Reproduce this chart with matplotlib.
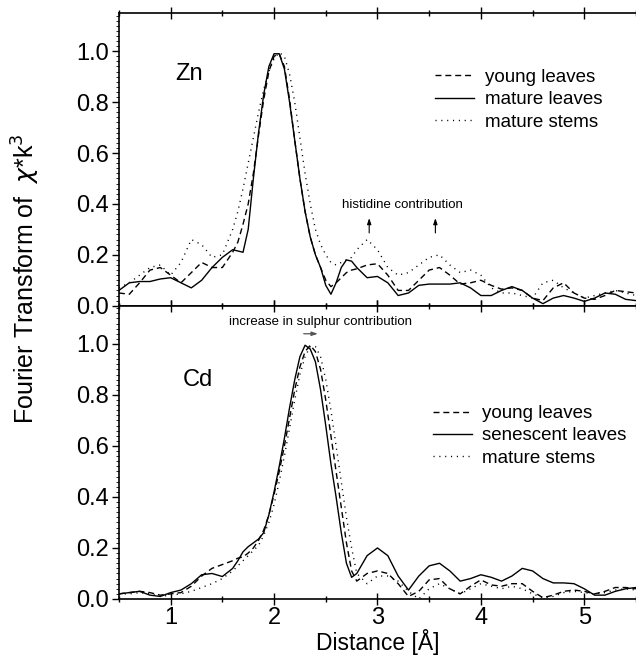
import matplotlib
matplotlib.use("Agg")
import matplotlib.pyplot as plt
from matplotlib.ticker import MultipleLocator, FormatStrFormatter

plt.rcParams['font.family'] = ['Liberation Sans', 'DejaVu Sans']
plt.rcParams['mathtext.fontset'] = 'dejavusans'

# ---- data ----
dist = [0.5, 0.6, 0.7, 0.8, 0.9, 1.0, 1.1, 1.2, 1.3, 1.4, 1.5,
        1.6, 1.65, 1.7, 1.75, 1.8, 1.85, 1.9, 1.95, 2.0, 2.05, 2.1, 2.15,
        2.2, 2.25, 2.3, 2.35, 2.4, 2.45, 2.5, 2.55, 2.6, 2.65, 2.7, 2.75, 2.8,
        2.9, 3.0, 3.1, 3.2, 3.3, 3.4, 3.5, 3.6, 3.7, 3.8, 3.9, 4.0, 4.1, 4.2,
        4.3, 4.4, 4.5, 4.6, 4.7, 4.8, 4.9, 5.0, 5.1, 5.2, 5.3, 5.4, 5.5]

# Zn panel
zn_young = [0.05, 0.045, 0.09, 0.14, 0.15, 0.12, 0.09, 0.13, 0.17, 0.15, 0.15,
            0.21, 0.25, 0.32, 0.40, 0.52, 0.67, 0.81, 0.92, 0.98, 0.99, 0.94, 0.81,
            0.65, 0.50, 0.37, 0.27, 0.20, 0.15, 0.10, 0.075, 0.09, 0.11, 0.13, 0.14, 0.145,
            0.16, 0.165, 0.12, 0.06, 0.06, 0.10, 0.14, 0.15, 0.12, 0.085, 0.09, 0.10, 0.08, 0.065,
            0.07, 0.06, 0.03, 0.02, 0.07, 0.09, 0.05, 0.03, 0.025, 0.04, 0.06, 0.055, 0.05]
zn_mature = [0.06, 0.09, 0.095, 0.095, 0.105, 0.11, 0.09, 0.07, 0.10, 0.15, 0.19,
             0.22, 0.215, 0.21, 0.30, 0.50, 0.68, 0.83, 0.94, 0.99, 0.99, 0.93, 0.80,
             0.65, 0.50, 0.37, 0.27, 0.20, 0.15, 0.08, 0.045, 0.09, 0.15, 0.18, 0.175, 0.15,
             0.11, 0.115, 0.09, 0.04, 0.05, 0.08, 0.085, 0.085, 0.085, 0.09, 0.07, 0.04, 0.04, 0.06,
             0.075, 0.06, 0.03, 0.008, 0.03, 0.04, 0.03, 0.017, 0.03, 0.05, 0.045, 0.025, 0.02]
zn_stems = [0.07, 0.09, 0.12, 0.15, 0.16, 0.12, 0.17, 0.26, 0.24, 0.19, 0.20,
            0.30, 0.37, 0.46, 0.56, 0.66, 0.76, 0.85, 0.92, 0.97, 0.995, 0.98, 0.91,
            0.80, 0.66, 0.52, 0.40, 0.30, 0.24, 0.20, 0.17, 0.16, 0.17, 0.18, 0.19, 0.22,
            0.26, 0.22, 0.15, 0.12, 0.13, 0.16, 0.19, 0.20, 0.16, 0.13, 0.14, 0.12, 0.07, 0.05,
            0.05, 0.04, 0.03, 0.09, 0.10, 0.07, 0.05, 0.03, 0.04, 0.05, 0.06, 0.05, 0.04]

# Cd panel
cd_young = [0.02, 0.025, 0.03, 0.025, 0.015, 0.02, 0.025, 0.05, 0.09, 0.12, 0.135,
            0.15, 0.16, 0.165, 0.18, 0.20, 0.23, 0.27, 0.33, 0.41, 0.50, 0.60, 0.71,
            0.82, 0.91, 0.97, 0.995, 0.97, 0.90, 0.78, 0.64, 0.50, 0.36, 0.22, 0.11, 0.07,
            0.10, 0.11, 0.10, 0.06, 0.01, 0.03, 0.075, 0.08, 0.04, 0.02, 0.05, 0.075, 0.055, 0.05,
            0.06, 0.06, 0.03, 0.005, 0.015, 0.03, 0.035, 0.03, 0.02, 0.03, 0.045, 0.045, 0.04]
cd_senescent = [0.02, 0.025, 0.03, 0.015, 0.01, 0.025, 0.035, 0.06, 0.095, 0.10, 0.088,
                0.12, 0.15, 0.185, 0.205, 0.22, 0.235, 0.26, 0.33, 0.42, 0.52, 0.63, 0.75,
                0.86, 0.95, 0.995, 0.98, 0.93, 0.82, 0.68, 0.53, 0.40, 0.26, 0.14, 0.085, 0.10,
                0.17, 0.20, 0.17, 0.09, 0.035, 0.09, 0.13, 0.14, 0.11, 0.07, 0.08, 0.095, 0.085, 0.07,
                0.09, 0.12, 0.11, 0.08, 0.063, 0.063, 0.06, 0.04, 0.015, 0.015, 0.03, 0.04, 0.045]
cd_stems = [0.02, 0.02, 0.025, 0.02, 0.01, 0.015, 0.02, 0.03, 0.045, 0.06, 0.08,
            0.11, 0.13, 0.15, 0.17, 0.19, 0.21, 0.25, 0.30, 0.37, 0.46, 0.56, 0.67,
            0.78, 0.88, 0.95, 0.99, 0.99, 0.95, 0.86, 0.74, 0.60, 0.46, 0.32, 0.20, 0.10,
            0.06, 0.09, 0.09, 0.07, 0.03, 0.0, 0.04, 0.06, 0.04, 0.02, 0.04, 0.06, 0.05, 0.04,
            0.05, 0.04, 0.02, 0.005, 0.01, 0.025, 0.03, 0.025, 0.02, 0.025, 0.035, 0.04, 0.035]

zn_labels = ['young leaves', 'mature leaves', 'mature stems']
cd_labels = ['young leaves', 'senescent leaves', 'mature stems']

# ---- styles ----
dash_style = (0, (4.3, 2.8))
dot_style = (0, (0.8, 3.4))
LW = 1.0


def style_axes(ax):
    ax.set_xlim(0.5, 5.5)
    ax.set_ylim(0, 1.15)
    ax.xaxis.set_major_locator(MultipleLocator(1))
    ax.xaxis.set_minor_locator(MultipleLocator(0.5))
    ax.yaxis.set_major_locator(MultipleLocator(0.2))
    ax.yaxis.set_minor_locator(MultipleLocator(0.02))
    ax.yaxis.set_major_formatter(FormatStrFormatter('%.1f'))
    ax.tick_params(axis='x', which='both', direction='inout', top=True, bottom=True,
                   labelsize=17, width=1.0, pad=2)
    ax.tick_params(axis='x', which='major', length=8)
    ax.tick_params(axis='x', which='minor', length=5)
    ax.tick_params(axis='y', which='major', direction='out', length=5, width=1.0,
                   labelsize=17, right=False, pad=2)
    ax.tick_params(axis='y', which='minor', direction='out', length=2, width=0.6)
    ax.spines['right'].set_visible(False)
    for s in ['left', 'top', 'bottom']:
        ax.spines[s].set_linewidth(1.2)


fig = plt.figure(figsize=(6.36, 6.58), dpi=100)
ax1 = fig.add_axes([0.187, 0.5354, 0.813, 0.4448])
ax2 = fig.add_axes([0.187, 0.0897, 0.813, 0.4457])

# top panel: Zn
ax1.plot(dist, zn_young, color='black', lw=LW, linestyle=dash_style, label=zn_labels[0])
ax1.plot(dist, zn_mature, color='black', lw=LW, linestyle='-', label=zn_labels[1])
ax1.plot(dist, zn_stems, color='black', lw=LW, linestyle=dot_style, label=zn_labels[2])
style_axes(ax1)
ax1.tick_params(axis='x', labelbottom=False)
ax1.text(1.04, 0.91, 'Zn', fontsize=17, va='center', ha='left')
ax1.legend(loc='center left', bbox_to_anchor=(0.611, 0.704), frameon=False,
           fontsize=13.5, handlelength=2.1, handletextpad=0.55, labelspacing=0.28,
           borderpad=0, borderaxespad=0)

ax1.text(3.24, 0.395, 'histidine contribution', fontsize=9.5, ha='center', va='center')
for xa in [2.92, 3.56]:
    ax1.annotate('', xy=(xa, 0.355), xytext=(xa, 0.275),
                 arrowprops=dict(arrowstyle='-|>,head_length=0.35,head_width=0.12',
                                 color='black', lw=0.8))

# bottom panel: Cd
ax2.plot(dist, cd_young, color='black', lw=LW, linestyle=dash_style, label=cd_labels[0])
ax2.plot(dist, cd_senescent, color='black', lw=LW, linestyle='-', label=cd_labels[1])
ax2.plot(dist, cd_stems, color='black', lw=LW, linestyle=dot_style, label=cd_labels[2])
style_axes(ax2)
ax2.text(1.12, 0.86, 'Cd', fontsize=17, va='center', ha='left')
ax2.legend(loc='center left', bbox_to_anchor=(0.607, 0.556), frameon=False,
           fontsize=13.5, handlelength=2.1, handletextpad=0.55, labelspacing=0.28,
           borderpad=0, borderaxespad=0)
ax2.text(2.45, 1.088, 'increase in sulphur contribution', fontsize=9.5,
         ha='center', va='center')
ax2.annotate('', xy=(2.45, 1.04), xytext=(2.26, 1.04),
             arrowprops=dict(arrowstyle='-|>,head_length=0.35,head_width=0.12',
                             color='#555555', lw=0.9))

ax2.set_xlabel('Distance [Å]', fontsize=16.5, labelpad=0)
fig.text(0.04, 0.576, 'Fourier Transform of  $\\chi$*k$^3$', rotation=90,
         fontsize=18, ha='center', va='center')

fig.savefig('out.png', dpi=100)
